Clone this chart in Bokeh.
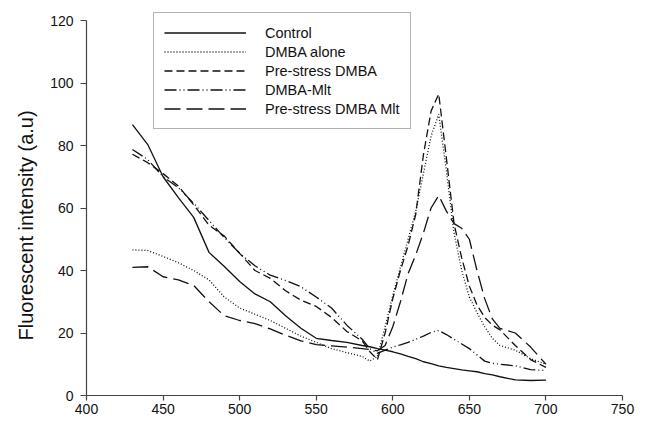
from bokeh.plotting import figure
from bokeh.models import Range1d, FixedTicker, Legend, LegendItem, Title
from bokeh.embed import file_html
from bokeh.resources import INLINE

wavelength = [430, 440, 450, 460, 470, 480, 490, 500, 510, 520, 530, 540, 550, 560, 570, 580,
              585, 590, 595, 600, 605, 610, 615, 620, 625, 630, 635, 640, 645, 650, 655, 660,
              665, 670, 680, 690, 700]

control = [86.7, 80.3, 70.0, 63.3, 57.0, 45.8, 41.3, 36.5, 32.5, 30.0, 25.5, 21.5, 18.3, 17.6, 17.0, 16.0,
           15.6, 15.0, 14.5, 14.0, 13.3, 12.5, 11.8, 10.8, 10.2, 9.5, 9.0, 8.6, 8.2, 7.9, 7.6, 7.0,
           6.6, 6.0, 5.0, 4.8, 4.9]

dmba_alone = [46.6, 46.4, 44.5, 42.5, 40.0, 37.0, 31.5, 28.0, 26.0, 24.0, 21.5, 19.0, 17.0, 15.0, 13.7, 12.5,
              11.0, 12.5, 22.0, 32.0, 41.0, 50.0, 59.0, 71.0, 83.0, 90.0, 72.0, 52.0, 40.0, 31.5, 26.5, 22.0,
              18.3, 16.0, 14.5, 11.8, 10.0]

prestress_dmba = [77.2, 74.5, 71.0, 67.0, 61.0, 54.5, 51.0, 45.5, 40.0, 37.5, 33.5, 30.5, 28.5, 25.0, 20.5, 17.5,
                  14.0, 11.5, 20.0, 31.0, 40.0, 48.0, 58.0, 77.0, 91.0, 96.5, 76.0, 55.0, 44.0, 35.0, 29.0, 25.0,
                  22.5, 21.0, 16.0, 11.5, 9.0]

dmba_mlt = [78.7, 75.5, 70.0, 66.5, 61.5, 56.0, 50.5, 45.5, 41.5, 38.5, 36.8, 34.8, 31.5, 28.0, 22.5, 18.0,
            15.0, 13.5, 14.5, 15.5, 16.2, 17.0, 18.0, 19.0, 20.2, 20.8, 19.5, 18.0, 16.5, 15.0, 13.0, 11.0,
            10.3, 10.0, 9.5, 8.3, 8.0]

prestress_dmba_mlt = [41.0, 41.2, 38.0, 37.0, 35.2, 30.0, 25.5, 24.0, 23.0, 21.3, 19.3, 17.5, 16.3, 15.9, 15.5, 15.0,
                      14.7, 14.3, 16.0, 22.0, 30.0, 39.0, 45.0, 52.0, 60.0, 64.0, 59.0, 55.0, 53.5, 50.0, 40.0, 31.0,
                      24.5, 21.5, 20.0, 15.5, 10.0]

series_names = ["Control", "DMBA alone", "Pre-stress DMBA", "DMBA-Mlt", "Pre-stress DMBA Mlt"]
series_values = [control, dmba_alone, prestress_dmba, dmba_mlt, prestress_dmba_mlt]
dashes = ["solid", "1 2", "8 4", "12 3 1 3 1 3", "16 6"]

x_ticks = [400, 450, 500, 550, 600, 650, 700, 750]
y_ticks = [0, 20, 40, 60, 80, 100, 120]
y_title = "Fluorescent intensity (a.u)"

FONT = "Liberation Sans"

# frame extends slightly above 120 so the legend (which pokes above the top tick) is not clipped
p = figure(width=640, height=421, output_backend="svg", toolbar_location=None,
           x_range=Range1d(400, 750), y_range=Range1d(0, 122.56),
           min_border_left=86, min_border_right=18, min_border_top=12, min_border_bottom=26)
p.xgrid.visible = False
p.ygrid.visible = False
p.outline_line_color = None
p.background_fill_color = "white"

items = []
for name, vals, dash in zip(series_names, series_values, dashes):
    r = p.line(wavelength, vals, line_color="#111111", line_width=1.3, line_dash=dash)
    items.append(LegendItem(label=name, renderers=[r]))

for ax in (p.xaxis[0], p.yaxis[0]):
    ax.axis_line_color = "#444444"
    ax.axis_line_width = 1.2
    ax.major_tick_line_color = "#444444"
    ax.major_tick_line_width = 1.2
    ax.major_tick_in = 0
    ax.minor_tick_line_color = None
    ax.major_label_text_font = FONT
    ax.major_label_text_font_size = "14px"
    ax.major_label_text_color = "#111111"

p.xaxis.ticker = FixedTicker(ticks=x_ticks)
p.yaxis.ticker = FixedTicker(ticks=y_ticks)
p.yaxis.bounds = (0, 120)
p.xaxis.major_tick_out = 5
p.yaxis.major_tick_out = 6
p.xaxis.major_label_standoff = 3
p.yaxis.major_label_standoff = 7

ytitle = Title(text=y_title, align="left", offset=55, standoff=22,
               text_font=FONT, text_font_size="20px", text_font_style="normal",
               text_color="#111111")
p.add_layout(ytitle, "left")

legend = Legend(items=items, location=(67, 266))
legend.label_text_font = FONT
legend.label_text_font_size = "14.5px"
legend.label_text_color = "#111111"
legend.glyph_width = 82
legend.glyph_height = 19
legend.label_height = 19
legend.label_standoff = 19
legend.spacing = 0
legend.padding = 10
legend.margin = 0
legend.border_line_color = "#666666"
legend.border_line_width = 1
legend.background_fill_color = "white"
legend.background_fill_alpha = 1
p.add_layout(legend)

open("out.html", "w").write(file_html(p, INLINE))
